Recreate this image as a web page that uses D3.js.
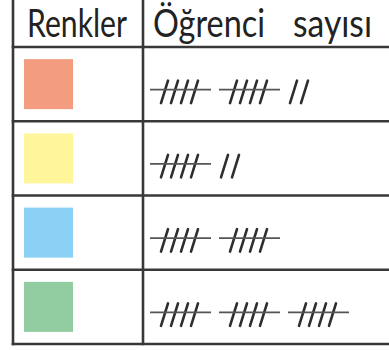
<!DOCTYPE html>
<html><head><meta charset="utf-8">
<script src="https://cdn.jsdelivr.net/npm/d3@7"></script>
<style>html,body{margin:0;padding:0;background:#fff;}svg{display:block;}</style>
</head><body>
<script>
const headers = ["Renkler", "Öğrenci", "sayısı"];
const categories = ["turuncu", "sarı", "mavi", "yeşil"];
const swatchColors = ["#F39C80", "#FFF59B", "#8BD0F5", "#92CCA1"];
const counts = [12, 7, 10, 15];

const W = 389, H = 350;
const svg = d3.select("body").append("svg").attr("width", W).attr("height", H);

const xLeft = 13, xDiv = 143, xRight = 400;
const yTop = -2, yHead = 47, yBottom = 344;
const ink = "#383838";

const y = d3.scaleBand().domain(categories).range([yHead, yBottom]);

// swatches
svg.selectAll("rect.sw").data(categories).enter().append("rect")
  .attr("x", 24).attr("width", 49)
  .attr("y", d => y(d) + y.bandwidth()/2 - 25).attr("height", 50)
  .attr("fill", (d,i) => swatchColors[i]);

// tally marks
const tally = svg.append("g");
categories.forEach((c, i) => {
  const n = counts[i];
  const yl = y(c) + y.bandwidth()/2 + 5.5;
  const groups = Math.floor(n / 5), singles = n % 5;
  for (let g = 0; g < groups; g++) {
    const gx = 150 + 69 * g;
    for (let k = 0; k < 4; k++) {
      const bx = gx + 11 + 10 * k;
      tally.append("line").attr("x1", bx).attr("y1", yl + 13.5).attr("x2", bx + 7).attr("y2", yl - 9)
        .attr("stroke", "#2e2e2e").attr("stroke-width", 2.6).attr("stroke-linecap", "round");
    }
    tally.append("line").attr("x1", gx).attr("y1", yl).attr("x2", gx + 61).attr("y2", yl)
      .attr("stroke", "#555").attr("stroke-width", 1.6);
  }
  const sx = 150 + 69 * groups;
  for (let k = 0; k < singles; k++) {
    const bx = sx + 2 + 11 * k;
    tally.append("line").attr("x1", bx).attr("y1", yl + 13.5).attr("x2", bx + 7).attr("y2", yl - 9)
      .attr("stroke", "#2e2e2e").attr("stroke-width", 2.6).attr("stroke-linecap", "round");
  }
});

// grid lines
const grid = svg.append("g").attr("stroke", ink).attr("stroke-width", 2.6);
[xLeft, xDiv].forEach(x => grid.append("line").attr("x1", x).attr("x2", x).attr("y1", yTop).attr("y2", yBottom + 1.3));
const hLines = [yHead].concat(categories.map(c => y(c) + y.bandwidth()));
hLines.forEach(yy => grid.append("line").attr("x1", xLeft - 1.3).attr("x2", xRight).attr("y1", yy).attr("y2", yy));

// header text
const font = "Lato, 'Noto Sans', sans-serif";
const hdr = [[27, 100], [153, 112], [293, 79]];
headers.forEach((t, i) => {
  svg.append("text").attr("x", hdr[i][0]).attr("y", 37).attr("font-family", font).attr("font-size", 38)
    .attr("fill", "#222")
    .attr("textLength", hdr[i][1]).attr("lengthAdjust", "spacingAndGlyphs").text(t);
});
</script>
</body></html>
